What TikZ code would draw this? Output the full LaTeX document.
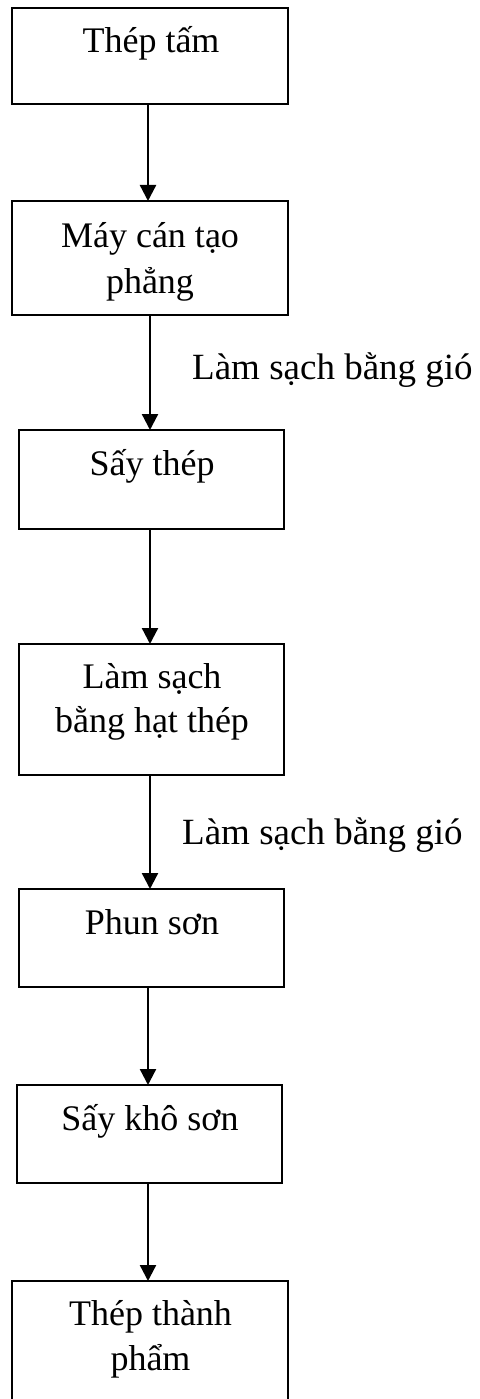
\documentclass[tikz,border=0pt]{standalone}
\usepackage{fontspec}
\setmainfont{Liberation Serif}
\usetikzlibrary{arrows.meta}
\begin{document}
\begin{tikzpicture}[x=1pt,y=-1pt,
  stepbox/.style={draw=black,line width=2.3pt,inner sep=0pt,outer sep=0pt},
  txt/.style={font=\fontsize{36}{46}\selectfont,align=center,inner sep=0pt,anchor=base},
  note/.style={font=\fontsize{37}{46}\selectfont,inner sep=0pt,anchor=base west},
  arr/.style={line width=2.3pt,-{Triangle[length=16pt,width=16pt]}}]
\useasboundingbox (0,0) rectangle (479,1399);
\clip (0,0) rectangle (479,1399);

% process boxes
\node[stepbox,minimum width=276pt,minimum height=96pt]  (b1) at (150,56)     {};
\node[stepbox,minimum width=276pt,minimum height=114pt] (b2) at (150,258)    {};
\node[stepbox,minimum width=265pt,minimum height=99pt]  (b3) at (151.5,479.5) {};
\node[stepbox,minimum width=265pt,minimum height=131pt] (b4) at (151.5,709.5) {};
\node[stepbox,minimum width=265pt,minimum height=98pt]  (b5) at (151.5,938)  {};
\node[stepbox,minimum width=265pt,minimum height=98pt]  (b6) at (149.5,1134) {};
\node[stepbox,minimum width=276pt,minimum height=160pt] (b7) at (150,1361)   {};

% box texts (anchor at the baseline of the last line)
\node[txt] (t1) at (151,53)     {Thép tấm};
\node[txt] (t2) at (150,293)    {Máy cán tạo\\phẳng};
\node[txt] (t3) at (152,475)    {Sấy thép};
\node[txt] (t4) at (152,732)    {Làm sạch\\[-2pt]bằng hạt thép};
\node[txt] (t5) at (152,934)    {Phun sơn};
\node[txt] (t6) at (150,1130)   {Sấy khô sơn};
\node[txt] (t7) at (150.5,1370) {Thép thành\\[-1pt]phẩm};

% side notes
\node[note] (n1) at (192,379) {Làm sạch bằng gió};
\node[note] (n2) at (182,844) {Làm sạch bằng gió};

% flow arrows
\draw[arr] ([xshift=-2pt]b1.south)   -- ([xshift=-2pt]b2.north);
\draw[arr] (b2.south)                -- ([xshift=-1.5pt]b3.north);
\draw[arr] ([xshift=-1.5pt]b3.south) -- ([xshift=-1.5pt]b4.north);
\draw[arr] ([xshift=-1.5pt]b4.south) -- ([xshift=-1.5pt]b5.north);
\draw[arr] ([xshift=-3.5pt]b5.south) -- ([xshift=-1.5pt]b6.north);
\draw[arr] ([xshift=-1.5pt]b6.south) -- ([xshift=-2pt]b7.north);
\end{tikzpicture}
\end{document}
